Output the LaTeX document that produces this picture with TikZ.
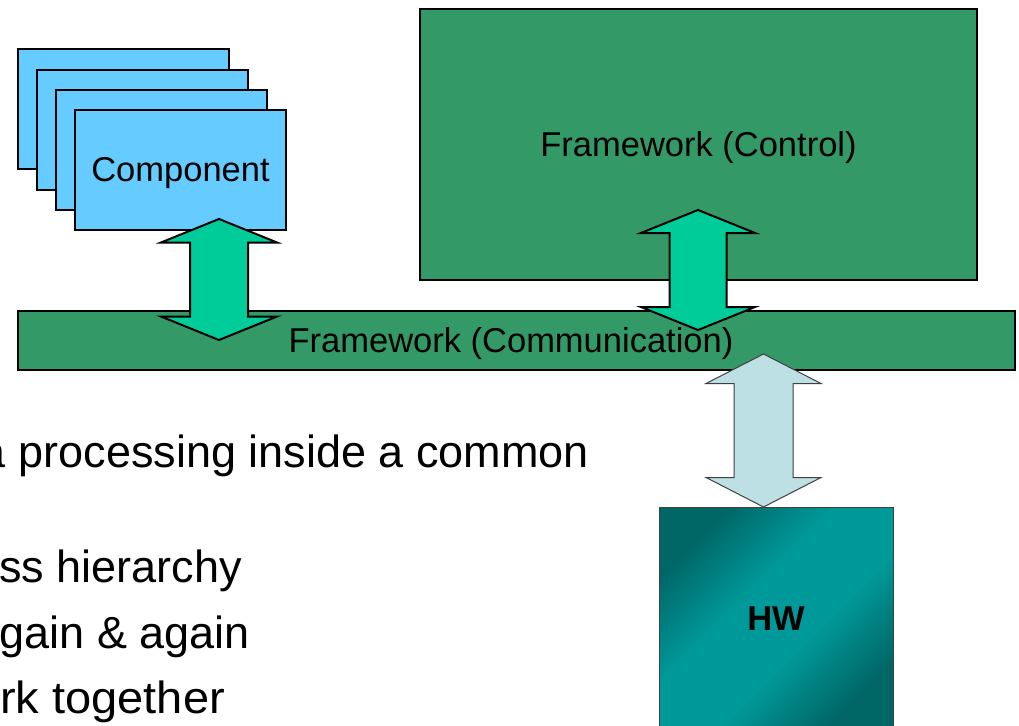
\documentclass[tikz,border=0pt]{standalone}
\usepackage{fontspec}
\usepackage{graphicx}
\setmainfont{Liberation Sans}
\definecolor{comp}{HTML}{66CCFF}
\definecolor{fw}{HTML}{339966}
\definecolor{garrow}{HTML}{00CC99}
\definecolor{larrow}{HTML}{BDE0E4}
\definecolor{hwdark}{HTML}{006666}
\definecolor{hwlight}{HTML}{009999}
\pgfdeclareverticalshading{hwshade}{100bp}{color(0bp)=(hwdark); color(25bp)=(hwdark);
  color(42bp)=(hwlight); color(58bp)=(hwlight); color(75bp)=(hwdark); color(100bp)=(hwdark)}
% #1 style, #2 cx, #3 ytop, #4 ybot, #5 head half width, #6 shaft half width, #7 tip length
\newcommand{\blockarrow}[7]{%
  \draw[#1] (#2,#3) -- ({#2+#5},{#3+#7}) -- ({#2+#6},{#3+#7}) -- ({#2+#6},{#4-#7})
    -- ({#2+#5},{#4-#7}) -- (#2,#4) -- ({#2-#5},{#4-#7}) -- ({#2-#6},{#4-#7})
    -- ({#2-#6},{#3+#7}) -- ({#2-#5},{#3+#7}) -- cycle;}
\begin{document}
\begin{tikzpicture}[x=1pt,y=-1pt,
  box/.style={draw=black,line width=2pt,inner sep=0pt,outer sep=0pt,
    text height=24.7pt,text depth=0pt,font=\fontsize{34.5}{40}\selectfont},
  compbox/.style={box,fill=comp,minimum width=211pt,minimum height=120pt},
  fwbox/.style={box,fill=fw},
  hwbox/.style={box,draw=black!75,line width=1pt,
    shading=hwshade,shading angle=45,
    font=\fontsize{34.5}{40}\selectfont\bfseries},
  garrowst/.style={draw=black,line width=2pt,fill=garrow},
  larrowst/.style={draw=black!75,line width=1pt,fill=larrow},
  txt/.style={inner sep=0pt,font=\fontsize{45}{54}\selectfont}]
\useasboundingbox (0,0) rectangle (1019,725);
\clip (0,0) rectangle (1019,725);
\fill[white] (0,0) rectangle (1019,725);

% component stack
\node[compbox] (c1) at (123,109) {};
\node[compbox] (c2) at (142.5,129.5) {};
\node[compbox] (c3) at (161.5,149.5) {};
\node[compbox] (comp) at (180.5,169.5) {Component};

% frameworks
\node[fwbox,minimum width=557pt,minimum height=271pt] (ctrl) at (698.5,144.5) {Framework (Control)};
\node[fwbox,minimum width=997pt,minimum height=59pt] (comm) at (516.5,340.5) {Framework (Communication)\hspace*{11pt}};

% hardware
\node[hwbox,minimum width=234pt,minimum height=222pt,shade] (hw) at (776,618) {HW};

% block arrows
\blockarrow{garrowst}{219}{219}{340}{58}{29}{23.5}
\blockarrow{garrowst}{698}{210}{330}{57}{28.5}{23}
\blockarrow{larrowst}{763.5}{354}{507}{57.5}{29.5}{29.5}

% text
\node[txt,anchor=base east] (t1) at (589,467) {a processing inside a common};
\node[txt,anchor=base east] (t2) at (242,582) {ss hierarchy};
\node[txt,anchor=base east] (t3) at (250,648) {gain \& again};
\node[txt,anchor=base west] (t4) at (0,713) {\scalebox{1.045}[1]{rk together}};
\end{tikzpicture}
\end{document}
